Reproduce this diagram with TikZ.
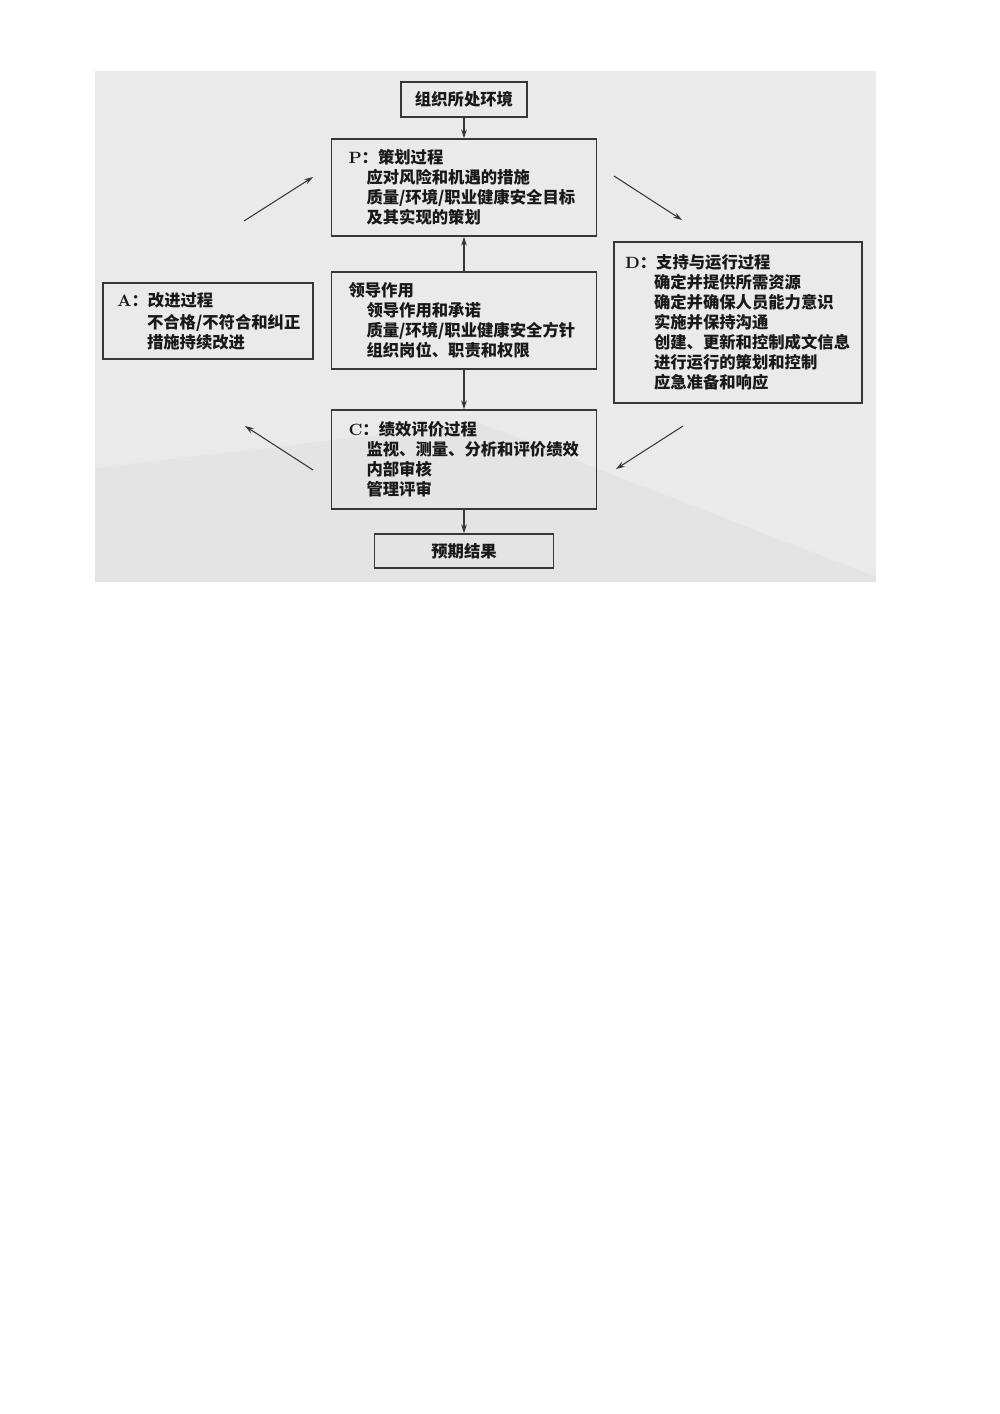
\documentclass[tikz,border=0pt]{standalone}
\usepackage{fontspec}
\newfontfamily\cjk{Noto Sans CJK SC}
\usepackage{tikz}
\usetikzlibrary{arrows.meta}
\usepackage{xcolor}
\definecolor{bggray}{RGB}{234,234,234}
\definecolor{bgshade}{RGB}{228,228,228}
\definecolor{linegray}{RGB}{55,55,55}
\definecolor{textgray}{RGB}{25,25,25}
\newcommand{\boxhead}[2]{{\rmfamily\bfseries #1}：#2}

\begin{document}
\begin{tikzpicture}[x=0.02cm, y=-0.02cm,
    box/.style={draw=linegray, line width=0.9pt, inner ysep=0pt, text=textgray,
      font=\fontsize{9.3}{11.4}\selectfont\bfseries\cjk},
    flow/.style={-{Stealth[length=5pt, width=3.2pt]}, draw=linegray, line width=0.6pt}]
    \useasboundingbox (0,0) rectangle (1000,1414);
    \fill[white] (0,0) rectangle (1000,1414);
    \fill[bggray] (95,71) rectangle (876,582);
    \fill[bgshade] (95,468) -- (480,423) -- (876,577) -- (876,582) -- (95,582) -- cycle;

    \node[box, minimum width=2.52cm, minimum height=0.7cm] (env) at (464,99.5) {组织所处环境};
    \node[box, minimum width=5.3cm, minimum height=1.94cm, inner xsep=0.34cm, text width=4.62cm, align=left]
      (plan) at (464,187.5)
      {\boxhead{P}{策划过程}\\
       \hspace*{0.36cm}应对风险和机遇的措施\\
       \hspace*{0.36cm}质量/环境/职业健康安全目标\\
       \hspace*{0.36cm}及其实现的策划};
    \node[box, minimum width=5.3cm, minimum height=1.94cm, inner xsep=0.34cm, text width=4.62cm, align=left]
      (lead) at (464,320.5)
      {领导作用\\
       \hspace*{0.36cm}领导作用和承诺\\
       \hspace*{0.36cm}质量/环境/职业健康安全方针\\
       \hspace*{0.36cm}组织岗位、职责和权限};
    \node[box, minimum width=5.3cm, minimum height=1.98cm, inner xsep=0.34cm, text width=4.62cm, align=left]
      (check) at (464,459.5)
      {\boxhead{C}{绩效评价过程}\\
       \hspace*{0.36cm}监视、测量、分析和评价绩效\\
       \hspace*{0.36cm}内部审核\\
       \hspace*{0.36cm}管理评审};
    \node[box, minimum width=3.58cm, minimum height=0.68cm] (result) at (464,551) {预期结果};
    \node[box, minimum width=4.2cm, minimum height=1.52cm, inner xsep=0.28cm, text width=3.64cm, align=left]
      (act) at (208,321)
      {\boxhead{A}{改进过程}\\[1pt]
       \hspace*{0.6cm}不合格/不符合和纠正\\
       \hspace*{0.6cm}措施持续改进};
    \node[box, minimum width=4.96cm, minimum height=3.22cm, inner xsep=0.22cm, text width=4.52cm, align=left]
      (do) at (738,322.5)
      {\boxhead{D}{支持与运行过程}\\
       \hspace*{0.58cm}确定并提供所需资源\\
       \hspace*{0.58cm}确定并确保人员能力意识\\
       \hspace*{0.58cm}实施并保持沟通\\
       \hspace*{0.58cm}创建、更新和控制成文信息\\
       \hspace*{0.58cm}进行运行的策划和控制\\
       \hspace*{0.58cm}应急准备和响应};

    \draw[flow] (env) -- (plan);
    \draw[flow] (lead) -- (plan);
    \draw[flow] (lead) -- (check);
    \draw[flow] (check) -- (result);

    \coordinate (ap0) at (244,221);
    \coordinate (ap1) at (313,177);
    \coordinate (pd0) at (614,176);
    \coordinate (pd1) at (682,220);
    \coordinate (dc0) at (683,426);
    \coordinate (dc1) at (616,469);
    \coordinate (ca0) at (313,470);
    \coordinate (ca1) at (245,426);
    \draw[flow] (ap0) -- (ap1);
    \draw[flow] (pd0) -- (pd1);
    \draw[flow] (dc0) -- (dc1);
    \draw[flow] (ca0) -- (ca1);
\end{tikzpicture}
\end{document}
